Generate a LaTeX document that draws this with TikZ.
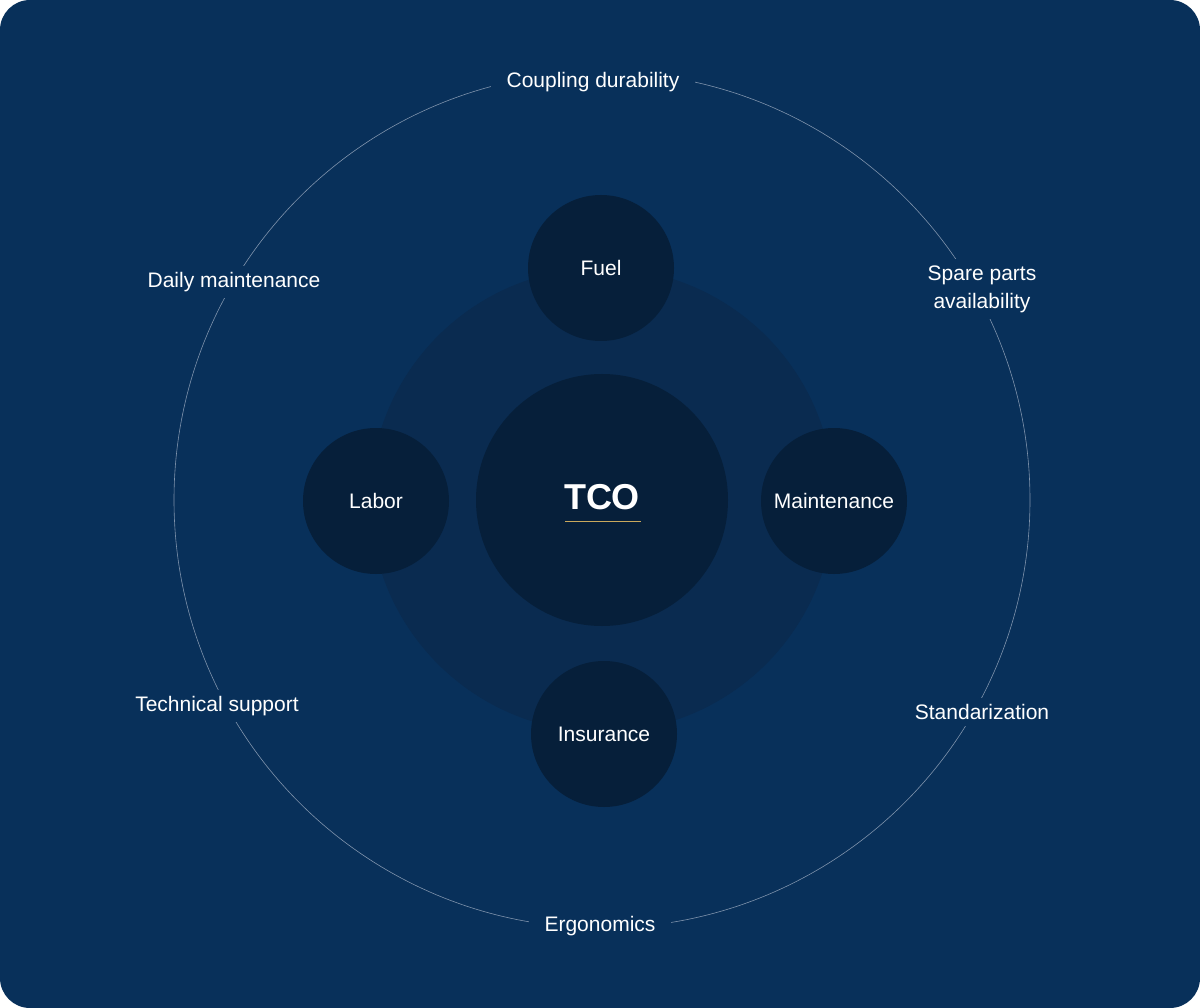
\documentclass[tikz,border=0pt]{standalone}
\usepackage{fontspec}
\setmainfont{Liberation Sans}
\definecolor{bg}{HTML}{08305A}
\definecolor{mid}{HTML}{0A2B50}
\definecolor{dark}{HTML}{061F3A}
\definecolor{ring}{HTML}{7F93AC}
\definecolor{gold}{HTML}{C9A85C}
\begin{document}
\begin{tikzpicture}[x=1pt,y=-1pt,
  lbl/.style={fill=bg,text=white,font=\fontsize{21}{25}\selectfont,inner xsep=16pt,inner ysep=6pt,align=center},
  small/.style={circle,fill=dark,minimum size=146pt,inner sep=0pt,text=white,font=\fontsize{21}{25}\selectfont}]
\useasboundingbox (0,0) rectangle (1200,1008);
\fill[white] (0,0) rectangle (1200,1008);
\fill[bg,rounded corners=30pt] (0,0) rectangle (1200,1008);
\coordinate (c) at (602,500);
\draw[ring,line width=0.6pt] (c) circle[radius=428];
\fill[mid] (c) circle[radius=232];
\node[circle,fill=dark,minimum size=252pt,inner sep=0pt] (tco) at (c) {};
\node[text=white,font=\bfseries\fontsize{36}{40}\selectfont] (tcot) at (602,497) {TCO};
\draw[gold,line width=1pt] (565,521) -- (641,521);
\node[small] (fuel) at (601,268) {Fuel};
\node[small] (labor) at (376,501) {Labor};
\node[small] (maint) at (834,501) {Maintenance};
\node[small] (ins) at (604,734) {Insurance};
\node[lbl] (l1) at (593,82) {Coupling durability};
\node[lbl] (l2) at (234,282) {Daily maintenance};
\node[lbl,font=\fontsize{21}{28}\selectfont] (l3) at (982,289) {Spare parts\\availability};
\node[lbl] (l4) at (217,706) {Technical support};
\node[lbl] (l5) at (982,712) {Standarization};
\node[lbl] (l6) at (600,926) {Ergonomics};
\end{tikzpicture}
\end{document}
